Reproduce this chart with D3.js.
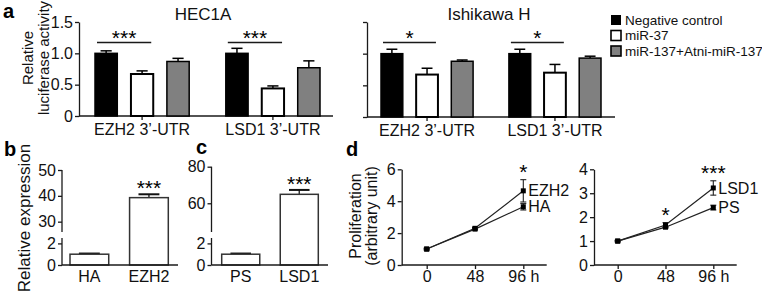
<!DOCTYPE html>
<html>
<head>
<meta charset="utf-8">
<script src="https://cdn.jsdelivr.net/npm/d3@7"></script>
<style>
  body { margin: 0; background: #fff; }
  svg { font-family: "Liberation Sans", Arial, sans-serif; }
</style>
</head>
<body>
<svg id="fig" width="762" height="300"></svg>
<script>
// ---- data ----
const utrGroups = ["EZH2 3’-UTR", "LSD1 3’-UTR"];
const conditions = ["Negative control", "miR-37", "miR-137+Atni-miR-137"];
const lucTicks = [0, 0.5, 1.0, 1.5];

const hec1aMean = [[1.00, 0.67, 0.87], [1.00, 0.44, 0.77]];
const hec1aErr  = [[0.04, 0.05, 0.05], [0.08, 0.04, 0.11]];
const hec1aSig  = ["***", "***"];

const ishiMean = [[1.00, 0.67, 0.88], [1.00, 0.70, 0.93]];
const ishiErr  = [[0.07, 0.10, 0.02], [0.07, 0.13, 0.03]];
const ishiSig  = ["*", "*"];

const bCats = ["HA", "EZH2"];
const bMean = [1.0, 39.3];
const bErr  = [0.06, 1.3];
const bTicks = [0, 2, 30, 40, 50];

const cCats = ["PS", "LSD1"];
const cMean = [1.0, 64.9];
const cErr  = [0.06, 2.4];
const cTicks = [0, 2, 60, 80];

const hours = [0, 48, 96];
const hourLabels = ["0", "48", "96 h"];
const ezh2Prolif = [1.0, 2.30, 4.65];
const ezh2Err    = [0.05, 0.06, 0.70];
const haProlif   = [1.0, 2.25, 3.65];
const haErr      = [0.05, 0.05, 0.20];
const dLeftTicks = [0, 2, 4, 6];
const dLeftSig   = ["", "", "*"];

const lsd1Prolif = [1.0, 1.67, 3.22];
const lsd1Err    = [0.03, 0.10, 0.30];
const psProlif   = [1.0, 1.58, 2.40];
const psErr      = [0.03, 0.04, 0.10];
const dRightTicks = [0, 1, 2, 3, 4];
const dRightSig   = ["", "*", "***"];

// ---- drawing ----
const svg = d3.select("#fig");
const FONT = "'Liberation Sans', Arial, sans-serif";
const INK = "#1a1a1a";
const fills = ["#000", "#fff", "#808080"];
const intFmt = d => String(d);

function styleAxis(g, size) {
  g.attr("font-family", FONT).attr("font-size", size);
  g.select(".domain").attr("stroke", INK).attr("stroke-width", 1.3);
  g.selectAll(".tick line").attr("stroke", INK).attr("stroke-width", 1.3);
  g.selectAll(".tick text").attr("fill", "#111");
}

function hline(g, x1, x2, y) {
  g.append("line").attr("x1", x1).attr("x2", x2).attr("y1", y).attr("y2", y)
    .attr("stroke", INK).attr("stroke-width", 1.3);
}

function vline(g, x, y1, y2) {
  g.append("line").attr("x1", x).attr("x2", x).attr("y1", y1).attr("y2", y2)
    .attr("stroke", INK).attr("stroke-width", 1.3);
}

function yTitle(lines, x, y, size) {
  lines.forEach((t, i) => {
    svg.append("text")
      .attr("transform", `translate(${x[i]},${y}) rotate(-90)`)
      .attr("text-anchor", "middle")
      .attr("font-size", size)
      .attr("fill", "#111")
      .text(t);
  });
}

function letter(t, x, y) {
  svg.append("text").attr("x", x).attr("y", y)
    .attr("font-size", 20).attr("font-weight", "bold").text(t);
}

// panel a: grouped bars
function lucPanel(o) {
  const g = svg.append("g");
  const y = d3.scaleLinear().domain([0, 1.5]).range([o.base, o.top]);
  const gx = d3.scaleBand().domain(utrGroups).range(o.bars).paddingInner(0.28);
  const cx = d3.scaleBand().domain(conditions).range([0, gx.bandwidth()]).paddingInner(0.38);
  const w = cx.bandwidth();

  g.append("g").attr("transform", `translate(${o.axisX},0)`)
    .call(d3.axisLeft(y).tickValues(lucTicks).tickSize(4).tickSizeOuter(0).tickPadding(2)
      .tickFormat(o.labels ? (d => d === 0 ? "0" : d3.format(".1f")(d)) : () => ""))
    .call(g2 => styleAxis(g2, 16));
  hline(g, o.axisX, o.axisEnd, o.base);

  utrGroups.forEach((grp, gi) => {
    const mid = gx(grp) + gx.bandwidth() / 2;
    g.append("line").attr("x1", mid).attr("x2", mid).attr("y1", o.base).attr("y2", o.base + 4)
      .attr("stroke", INK).attr("stroke-width", 1.3);
    g.append("text").attr("x", mid).attr("y", o.base + 19).attr("text-anchor", "middle")
      .attr("font-size", 16).attr("fill", "#111").text(grp);

    conditions.forEach((cond, ci) => {
      const x0 = gx(grp) + cx(cond);
      const v = o.mean[gi][ci], e = o.err[gi][ci];
      const c = x0 + w / 2;
      g.append("line").attr("x1", c).attr("x2", c).attr("y1", y(v)).attr("y2", y(v + e))
        .attr("stroke", "#000").attr("stroke-width", 1.5);
      g.append("line").attr("x1", c - w * 0.25).attr("x2", c + w * 0.25)
        .attr("y1", y(v + e)).attr("y2", y(v + e))
        .attr("stroke", "#000").attr("stroke-width", 1.5);
      g.append("rect").attr("x", x0).attr("y", y(v)).attr("width", w).attr("height", o.base - y(v))
        .attr("fill", fills[ci]).attr("stroke", "#000").attr("stroke-width", ci === 1 ? 2 : 1.5);
    });

    // significance bar between control and miR
    const sx1 = gx(grp) + cx(conditions[0]) + 2;
    const sx2 = gx(grp) + cx(conditions[1]) + w - 2;
    hline(g, sx1, sx2, o.sigY);
    g.append("text").attr("x", (sx1 + sx2) / 2).attr("y", o.sigY + 2)
      .attr("text-anchor", "middle").attr("font-size", 21).attr("fill", "#000").text(o.sig[gi]);
  });

  svg.append("text").attr("x", o.titleX).attr("y", 20).attr("text-anchor", "middle")
    .attr("font-size", 17).attr("fill", "#111").text(o.title);
}

lucPanel({ axisX: 79, axisEnd: 333, base: 116, top: 22, bars: [95, 320],
  mean: hec1aMean, err: hec1aErr, sig: hec1aSig, labels: true, sigY: 42.5,
  title: "HEC1A", titleX: 203 });
lucPanel({ axisX: 367, axisEnd: 615, base: 117, top: 22, bars: [381, 601],
  mean: ishiMean, err: ishiErr, sig: ishiSig, labels: false, sigY: 42.5,
  title: "Ishikawa H", titleX: 489 });

yTitle(["Relative", "luciferase activity"], [33, 49], 58, 15);
letter("a", 3, 18);

// legend
const leg = svg.append("g");
conditions.forEach((cond, i) => {
  const yy = 20 + i * 15.5;
  leg.append("rect").attr("x", 611).attr("y", yy - 5).attr("width", 10).attr("height", 10)
    .attr("fill", fills[i]).attr("stroke", "#000").attr("stroke-width", i === 0 ? 0 : 1.6);
  leg.append("text").attr("x", 625).attr("y", yy).attr("dy", "0.35em")
    .attr("font-size", 13.5).attr("fill", "#111").text(cond);
});

// panels b, c: two bars with a broken y axis (piecewise scale)
function breakPanel(o) {
  const g = svg.append("g");
  const y = d3.scaleLinear()
    .domain([0, 2.5, o.highDomain[0], o.highDomain[1]])
    .range([265, 238, 232, o.highTop]);
  const x = d3.scaleBand().domain(o.cats).range(o.bars).paddingInner(0.35);
  const w = x.bandwidth();

  o.cats.forEach((cat, i) => {
    const c = x(cat) + w / 2;
    const v = o.mean[i], top = y(o.mean[i] + o.err[i]);
    g.append("line").attr("x1", c).attr("x2", c).attr("y1", y(v)).attr("y2", top)
      .attr("stroke", "#333").attr("stroke-width", 1.5);
    g.append("line").attr("x1", c - w * 0.27).attr("x2", c + w * 0.27).attr("y1", top).attr("y2", top)
      .attr("stroke", "#111").attr("stroke-width", 2);
    g.append("rect").attr("x", x(cat)).attr("y", y(v)).attr("width", w).attr("height", 265 - y(v))
      .attr("fill", "#fff").attr("stroke", "#333").attr("stroke-width", 1.5);
    g.append("text").attr("x", c).attr("y", 281.5).attr("text-anchor", "middle")
      .attr("font-size", 16).attr("fill", "#111").text(cat);
    if (o.sig[i]) {
      g.append("text").attr("x", c).attr("y", top + 1).attr("text-anchor", "middle")
        .attr("font-size", 21).attr("fill", "#000").text(o.sig[i]);
    }
  });

  // axis drawn last so nothing sits on top of its labels
  g.append("g").attr("class", "break-axis").attr("transform", `translate(${o.axisX},0)`)
    .call(d3.axisLeft(y).tickValues(o.ticks).tickSize(4).tickSizeOuter(0).tickPadding(2)
      .tickFormat(intFmt))
    .call(g2 => { styleAxis(g2, 16); g2.select(".domain").remove(); });
  vline(g, o.axisX, 265, 238);
  vline(g, o.axisX, 232, o.highTop);
  hline(g, o.axisX, o.axisEnd, 265);
}

breakPanel({ axisX: 62, axisEnd: 178, bars: [70, 168.3], cats: bCats, mean: bMean, err: bErr,
  ticks: bTicks, highDomain: [26, 50], highTop: 170, sig: ["", "***"] });
breakPanel({ axisX: 211.5, axisEnd: 328, bars: [221.7, 318.3], cats: cCats, mean: cMean, err: cErr,
  ticks: cTicks, highDomain: [44.3, 80], highTop: 166.7, sig: ["", "***"] });

yTitle(["Relative expression"], [30], 218, 17);
letter("b", 4, 156);
letter("c", 196, 154);

// panel d: proliferation lines
function linePanel(o) {
  const g = svg.append("g");
  const x = d3.scaleLinear().domain([0, 96]).range(o.xRange);
  const y = d3.scaleLinear().domain(o.yDomain).range([265, o.top]);

  g.append("g").attr("transform", `translate(${o.axisX},0)`)
    .call(d3.axisLeft(y).tickValues(o.ticks).tickSize(4).tickSizeOuter(0).tickPadding(2)
      .tickFormat(intFmt))
    .call(g2 => styleAxis(g2, 16));
  g.append("g").attr("transform", `translate(0,265)`)
    .call(d3.axisBottom(x).tickValues(hours).tickSize(4).tickPadding(2)
      .tickFormat((d, i) => hourLabels[i]))
    .call(g2 => { styleAxis(g2, 16); g2.select(".domain").remove(); });
  hline(g, o.axisX, o.axisEnd, 265);

  const line = d3.line().x((d, i) => x(hours[i])).y(d => y(d));
  o.series.forEach(s => {
    g.append("path").attr("d", line(s.vals)).attr("fill", "none")
      .attr("stroke", "#222").attr("stroke-width", 1.2);
    s.vals.forEach((v, i) => {
      const cx = x(hours[i]);
      const y1 = y(v - s.errs[i]), y2 = y(v + s.errs[i]);
      g.append("line").attr("x1", cx).attr("x2", cx).attr("y1", y1).attr("y2", y2)
        .attr("stroke", "#222").attr("stroke-width", 1.1);
      [y1, y2].forEach(yy => g.append("line").attr("x1", cx - 3).attr("x2", cx + 3)
        .attr("y1", yy).attr("y2", yy).attr("stroke", "#222").attr("stroke-width", 1.1));
      g.append("rect").attr("x", cx - 2.5).attr("y", y(v) - 2.5).attr("width", 5).attr("height", 5)
        .attr("fill", "#000");
    });
    g.append("text").attr("x", x(96) + 5).attr("y", y(s.vals[2])).attr("dy", "0.35em")
      .attr("font-size", 16).attr("fill", "#111").text(s.name);
  });

  hours.forEach((h, i) => {
    if (!o.sig[i]) return;
    const top = d3.min(o.series, s => y(s.vals[i] + s.errs[i]));
    g.append("text").attr("x", x(h)).attr("y", top - 1).attr("text-anchor", "middle")
      .attr("font-size", 21).attr("fill", "#000").text(o.sig[i]);
  });
}

linePanel({ axisX: 401.7, axisEnd: 546.7, xRange: [426.7, 523.3], yDomain: [0, 6], top: 169.3,
  ticks: dLeftTicks, sig: dLeftSig,
  series: [{ name: "EZH2", vals: ezh2Prolif, errs: ezh2Err }, { name: "HA", vals: haProlif, errs: haErr }] });
linePanel({ axisX: 594, axisEnd: 736.7, xRange: [617.7, 713.3], yDomain: [0, 4], top: 169.3,
  ticks: dRightTicks, sig: dRightSig,
  series: [{ name: "LSD1", vals: lsd1Prolif, errs: lsd1Err }, { name: "PS", vals: psProlif, errs: psErr }] });

yTitle(["Proliferation", "(arbitrary unit)"], [361, 377], 216, 16);
letter("d", 346, 156);

svg.selectAll(".break-axis").raise();
</script>
</body>
</html>
